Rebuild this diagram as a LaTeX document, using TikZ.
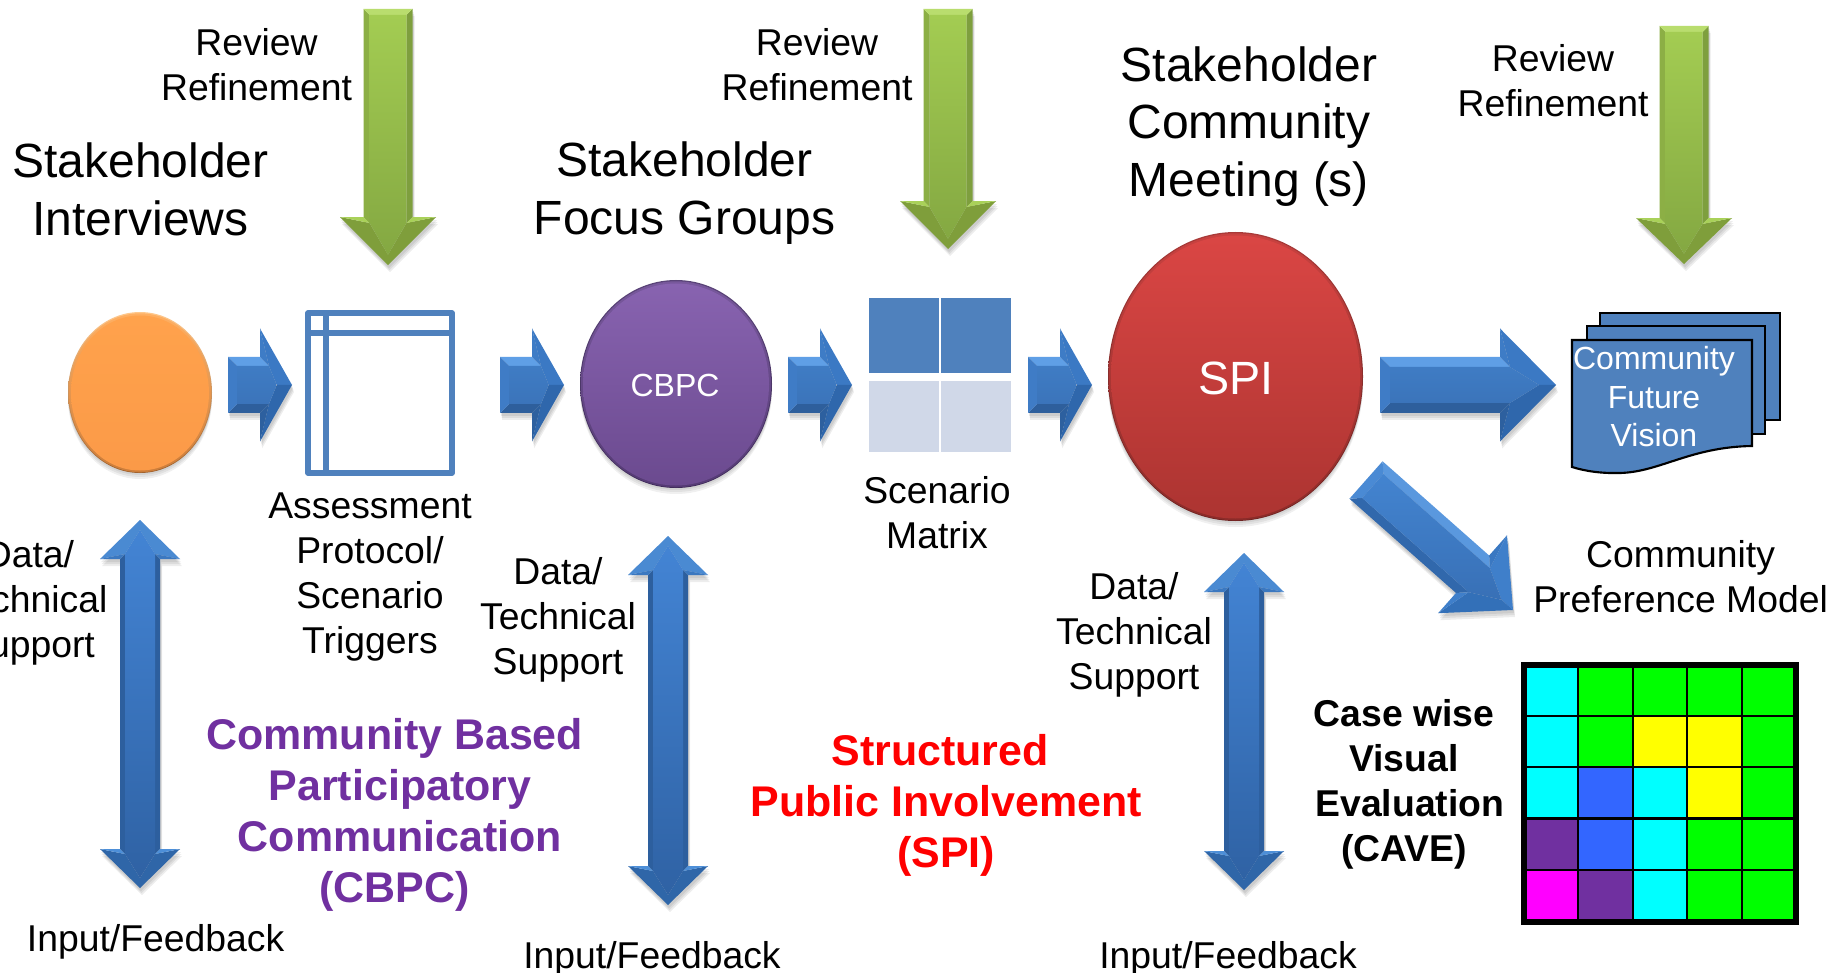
\documentclass[tikz,border=0pt]{standalone}
\usepackage{fontspec}
\setmainfont{Liberation Sans}
\usetikzlibrary{shapes.geometric,calc}
\definecolor{boxblue}{HTML}{4F81BD}
\definecolor{paleblue}{HTML}{D0D8E8}
\definecolor{cbpcpurple}{HTML}{7030A0}
\definecolor{cellblue}{HTML}{3366FF}
\definecolor{cellgreen}{HTML}{00FF00}
\definecolor{cellcyan}{HTML}{00FFFF}
\definecolor{cellmagenta}{HTML}{FF00FF}
\definecolor{cellyellow}{HTML}{FFFF00}
\definecolor{titlered}{HTML}{FF0000}
\tikzset{
  txt/.style={align=center,inner sep=0pt,text=black,font=\fontsize{28}{33.75}\selectfont},
  headtxt/.style={align=center,inner sep=0pt,text=black,font=\fontsize{36}{43.4}\selectfont},
  boldtxt/.style={align=center,inner sep=0pt,font=\bfseries\fontsize{32.2}{38.3}\selectfont},
  casetxt/.style={align=center,inner sep=0pt,text=black,font=\bfseries\fontsize{28}{33.6}\selectfont},
  doctxt/.style={align=center,inner sep=0pt,text=white,font=\fontsize{24}{28.9}\selectfont},
  docpage/.style={fill=boxblue,draw=black,line width=1.6pt,line join=miter},
  frameline/.style={draw=boxblue,line width=4pt,line join=round},
}
% palette
\newcommand\palette[9]{%
  \definecolor{sA}{HTML}{#1}\definecolor{sB}{HTML}{#2}\definecolor{sC}{HTML}{#3}%
  \definecolor{hA}{HTML}{#4}\definecolor{hB}{HTML}{#5}%
  \definecolor{wA}{HTML}{#6}\definecolor{wB}{HTML}{#7}\definecolor{fT}{HTML}{#8}\definecolor{fB}{HTML}{#9}}
\newcommand\getdir[2]{%
  \pgfpointdiff{\pgfpointanchor{#1}{center}}{\pgfpointanchor{#2}{center}}%
  \pgfgetlastxy{\dxx}{\dyy}%
  \pgfmathsetmacro\Alen{veclen(\dxx,\dyy)/0.75}%
  \pgfmathsetmacro\Aang{atan2(\dyy,\dxx)}}
% from, to, shaft half, head half, head length, bevel
\newcommand\blockarrow[6]{%
  \getdir{#1}{#2}%
  \pgfmathsetmacro\Lb{\Alen-#5}%
  \pgfmathsetmacro\Lc{\Lb+#6}%
  \pgfmathsetmacro\Ld{\Alen-1.7*#6}%
  \pgfmathsetmacro\In{#3-#6}%
  \foreach \oa/\ob in {2/3,3/5,4/7}{%
    \begin{scope}[shift={($(#1)+(\oa*0.5,\ob)$)},rotate=\Aang]
      \fill[black,opacity=0.07] (0,-#3)--(\Lb,-#3)--(\Lb,-#4)--(\Alen,0)--(\Lb,#4)--(\Lb,#3)--(0,#3)--cycle;
    \end{scope}}%
  \begin{scope}[shift={(#1)},rotate=\Aang]
    \fill[sA] (0,-#3)--(\Lb,-#3)--(\Lc,-\In)--(#6,-\In)--cycle;
    \fill[sB] (0,#3)--(\Lb,#3)--(\Lc,\In)--(#6,\In)--cycle;
    \fill[sC] (0,-#3)--(#6,-\In)--(#6,\In)--(0,#3)--cycle;
    \fill[hA] (\Lb,-#4)--(\Alen,0)--(\Ld,0)--(\Lc,-\In)--cycle;
    \fill[hB] (\Lb,#4)--(\Alen,0)--(\Ld,0)--(\Lc,\In)--cycle;
    \fill[wA] (\Lb,-#4)--(\Lb,-#3)--(\Lc,-\In)--cycle;
    \fill[wB] (\Lb,#4)--(\Lb,#3)--(\Lc,\In)--cycle;
    \shade[top color=fT,bottom color=fB] (#6,-\In)--(\Lc,-\In)--(\Ld,0)--(\Lc,\In)--(#6,\In)--cycle;
  \end{scope}}
% double-headed arrow from top to bottom: shaft half, head half, head length, bevel
\newcommand\doublearrow[6]{%
  \getdir{#1}{#2}%
  \pgfmathsetmacro\La{#5}%
  \pgfmathsetmacro\Lb{\Alen-#5}%
  \pgfmathsetmacro\Lc{\Lb+#6}%
  \pgfmathsetmacro\Le{\La-#6}%
  \pgfmathsetmacro\Ld{\Alen-2*#6}%
  \pgfmathsetmacro\Lf{2*#6}%
  \pgfmathsetmacro\In{#3-#6}%
  \foreach \oa/\ob in {2/3,3/5,4/7}{%
    \begin{scope}[shift={($(#1)+(\oa*0.5,\ob)$)},rotate=\Aang]
      \fill[black,opacity=0.07] (0,0)--(\La,-#4)--(\La,-#3)--(\Lb,-#3)--(\Lb,-#4)--(\Alen,0)--(\Lb,#4)--(\Lb,#3)--(\La,#3)--(\La,#4)--cycle;
    \end{scope}}%
  \begin{scope}[shift={(#1)},rotate=\Aang]
    \fill[sA] (\La,-#3)--(\Lb,-#3)--(\Lc,-\In)--(\Le,-\In)--cycle;
    \fill[sB] (\La,#3)--(\Lb,#3)--(\Lc,\In)--(\Le,\In)--cycle;
    \fill[hA] (\Lb,-#4)--(\Alen,0)--(\Ld,0)--(\Lc,-\In)--cycle;
    \fill[hA] (\Lb,#4)--(\Alen,0)--(\Ld,0)--(\Lc,\In)--cycle;
    \fill[wA] (\Lb,-#4)--(\Lb,-#3)--(\Lc,-\In)--cycle;
    \fill[wA] (\Lb,#4)--(\Lb,#3)--(\Lc,\In)--cycle;
    \fill[hB] (\La,-#4)--(0,0)--(\Lf,0)--(\Le,-\In)--cycle;
    \fill[hB] (\La,#4)--(0,0)--(\Lf,0)--(\Le,\In)--cycle;
    \fill[wB] (\La,-#4)--(\La,-#3)--(\Le,-\In)--cycle;
    \fill[wB] (\La,#4)--(\La,#3)--(\Le,\In)--cycle;
    \shade[top color=fT,bottom color=fB] (\Lf,0)--(\Le,-\In)--(\Lc,-\In)--(\Ld,0)--(\Lc,\In)--(\Le,\In)--cycle;
  \end{scope}}
% name, cx, cy, rx, ry, rim top, rim bottom, fill top, fill bottom
\newcommand\bevelcircle[9]{%
  \definecolor{rT}{HTML}{#6}\definecolor{rB}{HTML}{#7}\definecolor{iT}{HTML}{#8}\definecolor{iB}{HTML}{#9}%
  \foreach \oo in {2,4,6}{\fill[black,opacity=0.06] (#2,#3+\oo) ellipse [x radius=#4,y radius=#5];}%
  \shade[top color=rT,bottom color=rB] (#2,#3) ellipse [x radius=#4,y radius=#5];
  \shade[top color=rT!35!iT,bottom color=rB!50!iB] (#2,#3+0.3) ellipse [x radius=#4-1,y radius=#5-1];
  \node[ellipse,inner sep=0pt,outer sep=0pt,minimum width=(2*#4-6)*0.75pt,minimum height=(2*#5-6)*0.75pt,top color=iT,bottom color=iB] (#1) at (#2,#3+0.5) {};
}
\begin{document}
\begin{tikzpicture}[x=0.75pt,y=-0.75pt]
\useasboundingbox (0,0) rectangle (1835,973);
\clip (0,0) rectangle (1835,973);
\fill[white] (0,0) rectangle (1835,973);

% circles
\bevelcircle{interview}{140}{392.5}{72}{80.5}{FFC88C}{9C5F2C}{FFA24C}{FB9A48}
\bevelcircle{cbpccircle}{676}{384}{96}{104}{5A4478}{3E2A58}{8863B0}{6B4A8F}
\bevelcircle{spicircle}{1235.5}{376.5}{127.5}{144.5}{A83A38}{6A2220}{DA4644}{AC3431}
\node[inner sep=0pt,text=white,font=\fontsize{24}{29}\selectfont] (cbpclabel) at (675,385) {CBPC};
\node[inner sep=0pt,text=white,font=\fontsize{35}{42}\selectfont] (spilabel) at (1236,378) {SPI};

% assessment protocol frame
\draw[frameline] (308,313) rectangle (452,473);
\coordinate (frameTL) at (308,333);
\coordinate (frameTR) at (452,333);
\coordinate (frameLT) at (326,313);
\coordinate (frameLB) at (326,473);
\draw[frameline] (frameTL) -- (frameTR);
\draw[frameline] (frameLT) -- (frameLB);

% scenario matrix
\fill[boxblue] (869,298) rectangle (939,373);
\fill[boxblue] (941,298) rectangle (1011,373);
\fill[paleblue] (869,381) rectangle (939,452);
\fill[paleblue] (941,381) rectangle (1011,452);

% document stack
\path[docpage] (1600,340) -- (1600,313) -- (1780,313) -- (1780,420) -- (1760,420) -- (1760,340) -- cycle;
\path[docpage] (1587,345) -- (1587,326) -- (1765,326) -- (1765,434) -- (1745,434) -- (1745,345) -- cycle;
\path[docpage] (1572,340) -- (1752,340) -- (1752,446) .. controls (1690,447) and (1660,472) .. (1620,473) .. controls (1600,473.5) and (1585,471) .. (1572,467) -- cycle;
\node[doctxt] (vision) at (1654,397) {Community\\Future\\Vision};

% arrows
\coordinate (a1s) at (228,385); \coordinate (a1e) at (292,385);
\coordinate (a2s) at (500,385); \coordinate (a2e) at (564,385);
\coordinate (a3s) at (788,385); \coordinate (a3e) at (852,385);
\coordinate (a4s) at (1028,385); \coordinate (a4e) at (1092,385);
\coordinate (a5s) at (1380,385); \coordinate (a5e) at (1556,385);
\coordinate (a6s) at (1366,480); \coordinate (a6e) at (1513,610);
\palette{5F9FE6}{2E5F9C}{3F7CC6}{3B79C4}{2F67AC}{3E7CC6}{2D609F}{3F7CC4}{3B74BA}
\blockarrow{a1s}{a1e}{28}{56.5}{32}{9}
\blockarrow{a2s}{a2e}{28}{56.5}{32}{9}
\blockarrow{a3s}{a3e}{28}{56.5}{32}{9}
\blockarrow{a4s}{a4e}{28}{56.5}{32}{9}
\blockarrow{a5s}{a5e}{28}{56.5}{56}{10}
\palette{5A98DE}{3168AC}{4A8AD4}{3F7FCA}{3370B8}{3A78C2}{3F7FCA}{4384D0}{3870B6}
\blockarrow{a6s}{a6e}{25}{52}{54}{9}

% green arrows
\coordinate (g1s) at (388,9);  \coordinate (g1e) at (388,265);
\coordinate (g2s) at (948,9);  \coordinate (g2e) at (948,249);
\coordinate (g3s) at (1684,26); \coordinate (g3e) at (1684,264);
\palette{7E9F3E}{8CAF45}{B9DD6E}{7F9E3B}{7F9E3B}{A9D159}{A9D159}{A3CC52}{84A842}
\blockarrow{g1s}{g1e}{24.5}{48}{48}{6}
\blockarrow{g2s}{g2e}{24.5}{48}{48}{6}
\blockarrow{g3s}{g3e}{24.5}{48}{46}{6}

% double arrows
\coordinate (d1s) at (140,520);  \coordinate (d1e) at (140,888);
\coordinate (d2s) at (668,536);  \coordinate (d2e) at (668,905);
\coordinate (d3s) at (1244,553); \coordinate (d3e) at (1244,890);
\palette{2D5F9E}{2D5F9E}{2D5F9E}{2F66A8}{4A8AD2}{4D8FD8}{3B78C0}{4384D4}{2F62A4}
\doublearrow{d1s}{d1e}{20}{40}{39}{5}
\doublearrow{d2s}{d2e}{20}{40}{39}{5}
\doublearrow{d3s}{d3e}{20}{40}{39}{5}

% CAVE grid
\fill[black] (1521,662) rectangle (1799,925);
\foreach \cx/\cxx [count=\i] in {1527/1577,1579/1632,1634/1686,1688/1741,1743/1793}{
  \foreach \cy/\cyy/\names in {668/715/{cellcyan,cellgreen,cellgreen,cellgreen,cellgreen},717/766/{cellcyan,cellgreen,cellyellow,cellyellow,cellgreen},768/817/{cellcyan,cellblue,cellcyan,cellyellow,cellgreen},820/869/{cbpcpurple,cellblue,cellcyan,cellgreen,cellgreen},871/919/{cellmagenta,cbpcpurple,cellcyan,cellgreen,cellgreen}}{
    \foreach \cellcol [count=\k] in \names {
      \ifnum\k=\i
        \fill[\cellcol] (\cx,\cy) rectangle (\cxx,\cyy);
      \fi
    }
  }
}

% texts
\node[txt] (rev1) at (256.5,65) {Review\\Refinement};
\node[txt] (rev2) at (817,65) {Review\\Refinement};
\node[txt] (rev3) at (1553,81) {Review\\Refinement};
\node[headtxt] (h1) at (140.5,189.5) {Stakeholder\\Interviews};
\node[headtxt] (h2) at (684.5,193.5) {Stakeholder\\Focus Groups};
\node[headtxt] (h3) at (1249,126.5) {Stakeholder\\Community\\Meeting (s)};
\node[txt] (protocol) at (370,577.5) {Assessment\\Protocol/\\Scenario\\Triggers};
\node[txt] (matrix) at (937,513) {Scenario\\Matrix};
\node[txt] (data1) at (29.5,602.5) {Data/\\Technical\\Support};
\node[txt] (data2) at (558,619.5) {Data/\\Technical\\Support};
\node[txt] (data3) at (1134,634.5) {Data/\\Technical\\Support};
\node[txt] (in1) at (155.6,941.5) {Input/Feedback};
\node[txt] (in2) at (652,958.5) {Input/Feedback};
\node[txt] (in3) at (1228,958.5) {Input/Feedback};
\node[txt] (prefmodel) at (1680.6,577) {Community\\Preference Model};
\node[boldtxt,text=cbpcpurple] (cbpctitle) at (400,814.5) {Community Based\hspace*{8pt}\\Participatory\\Communication\\(CBPC)\hspace*{8pt}};
\node[boldtxt,text=titlered] (spititle) at (946,805) {Structured\hspace*{8.8pt}\\Public Involvement\\(SPI)};
\node[casetxt] (cave) at (1404,784.5) {Case wise\\Visual\\\hspace*{8.8pt}Evaluation\\(CAVE)};
\end{tikzpicture}
\end{document}
